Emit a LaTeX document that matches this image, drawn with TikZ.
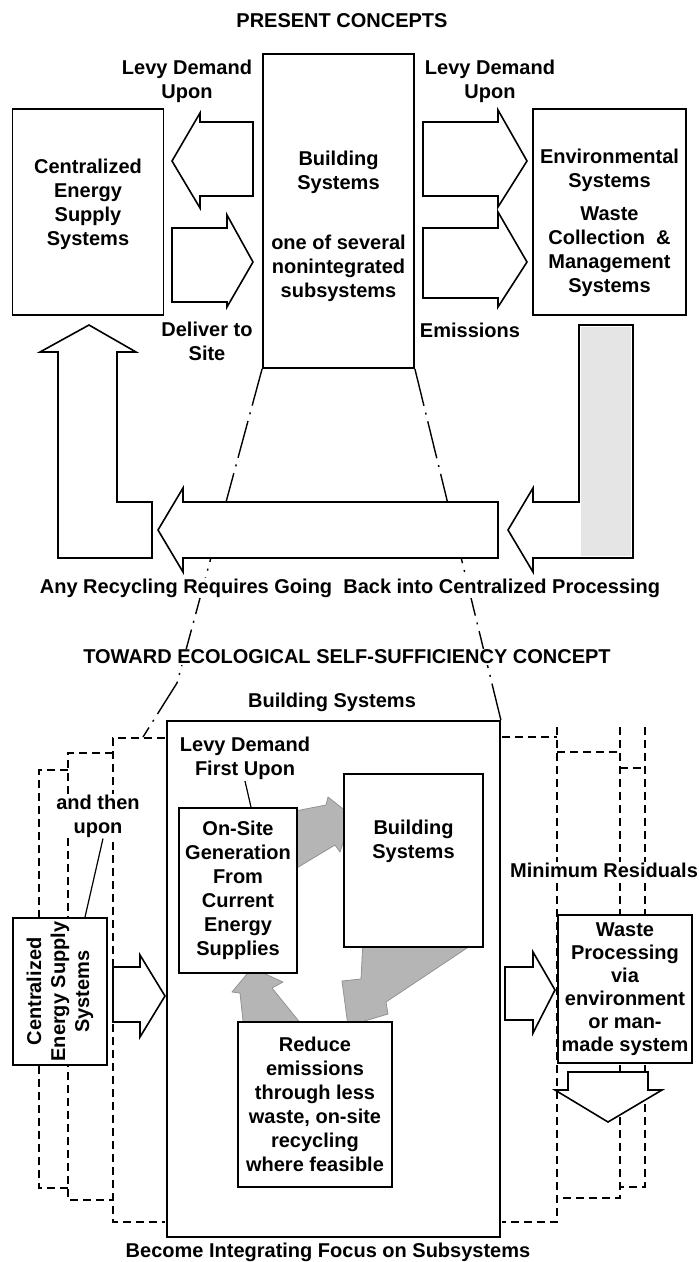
\documentclass[tikz,border=0pt]{standalone}
\usepackage{fontspec}
\setmainfont{Liberation Sans}
\usetikzlibrary{calc,backgrounds}
\newcommand{\lab}{\fontsize{20}{24}\selectfont\bfseries}

\begin{document}
\begin{tikzpicture}[x=1pt, y=-1pt, font=\lab,
  box/.style={draw, line width=1.8pt, fill=white, align=center, inner sep=2pt},
  hollow/.style={draw, line width=1.6pt, fill=white, line join=miter},
  shade/.style={draw=gray!85, fill=gray!58, line width=0.8pt, line join=round},
  guide/.style={line width=1.4pt, dash pattern=on 38pt off 7pt on 2pt off 7pt},
  ghost/.style={line width=1.4pt, dash pattern=on 8pt off 5pt},
  caption/.style={align=center, inner sep=1pt, fill=white}]
\useasboundingbox (0,0) rectangle (699,1262);
\begin{scope}[on background layer]
\fill[white] (0,0) rectangle (699,1262);
\end{scope}

\node[caption] (present) at (342,21) {PRESENT CONCEPTS};
\node[box, minimum width=151pt, minimum height=206pt] (cesup) at (88,212) {Centralized\\Energy\\Supply\\Systems\\[-4pt]\mbox{}};
\node[box, minimum width=151pt, minimum height=314pt] (bsys) at (338.5,211) {\mbox{}\\[21pt]Building\\Systems\\[36pt]one of several\\nonintegrated\\subsystems};
\node[box, minimum width=153pt, minimum height=206pt] (envsys) at (609.5,212) {\mbox{}\\[12pt]Environmental\\Systems\\[9pt]Waste\\Collection\ \ \&\\Management\\Systems};
\node[caption] (levyl) at (187,81.5) {Levy Demand\\Upon};
\node[caption] (levyr) at (490,81.5) {Levy Demand\\Upon};
\node[caption] (deliver) at (207,341.5) {Deliver to\\Site};
\node[caption] (emis) at (470,330) {Emissions};

\draw[hollow] (253,122) -- (200,122) -- (200,113) -- (172,161) -- (200,208) -- (200,196) -- (253,196) -- cycle;
\draw[hollow] (172,228) -- (227,228) -- (227,215) -- (253,262) -- (227,307) -- (227,302) -- (172,302) -- cycle;
\draw[hollow] (423,122) -- (498,122) -- (498,110) -- (527,161) -- (498,207) -- (498,196) -- (423,196) -- cycle;
\draw[hollow] (423,228) -- (498,228) -- (498,212) -- (527,262) -- (498,307) -- (498,298) -- (423,298) -- cycle;
\draw[hollow] (58,558) -- (152,558) -- (152,502) -- (117,502) -- (117,352) -- (136,352) -- (89,325) -- (40,352) -- (58,352) -- cycle;
\draw[hollow] (498,502) -- (183,502) -- (183,488) -- (158,530) -- (183,572) -- (183,558) -- (498,558) -- cycle;
\draw[hollow] (579,325) -- (633,325) -- (633,558) -- (533,558) -- (533,572) -- (508,530) -- (533,488) -- (533,502) -- (579,502) -- cycle;
\fill[gray!20] (581,327) rectangle (631,556);

\node[caption] (recyc) at (350,588) {Any Recycling Requires Going\ \ Back into Centralized Processing};
\node[caption] (toward) at (347,657) {TOWARD ECOLOGICAL SELF-SUFFICIENCY CONCEPT};
\node[caption] (bslab) at (332,702) {Building Systems};

\node[box, minimum width=333pt, minimum height=516pt] (bsbig) at (333.5,979) {};
\node[caption] (first) at (245,758.5) {Levy Demand\\First Upon};
\draw[shade] (290,812) -- (326,805) -- (328,797) -- (352,816) -- (340,852) -- (335,845) -- (290,872) -- cycle;
\draw[shade] (363,940) -- (479,940) -- (386,1002) -- (388,1014) -- (348,1026) -- (342,981) -- (361,979) -- cycle;
\draw[shade] (244,1030) -- (240,993) -- (232,992) -- (252,968) -- (283,982) -- (272,988) -- (306,1030) -- cycle;
\node[box, minimum width=118pt, minimum height=165pt] (onsite) at (238,890.5) {On-Site\\Generation\\From\\Current\\Energy\\Supplies};
\node[box, minimum width=139pt, minimum height=173pt] (bsin) at (413.5,860.5) {Building\\Systems\\[18pt]\mbox{}};
\node[box, minimum width=154pt, minimum height=165pt] (reduce) at (315,1104.5) {Reduce\\emissions\\through less\\waste, on-site\\recycling\\where feasible};
\draw[line width=1.2pt] (first.south) -- ($(onsite.north)+(13,0)$);

\node[box, minimum width=147pt, minimum height=94pt, rotate=90] (cesys) at (60,991.5) {Centralized\\Energy Supply\\Systems};
\node[caption] (then) at (98,816) {and then\\upon};
\draw[line width=1.2pt] ($(then.south)+(5,0)$) -- ($(cesys.east)+(25,0)$);
\draw[hollow] (113,967) -- (140,967) -- (140,955) -- (165,996) -- (140,1037) -- (140,1022) -- (113,1022) -- cycle;

\node[caption] (minres) at (604,870) {Minimum Residuals};
\node[box, minimum width=134pt, minimum height=148pt, font=\fontsize{20}{23}\selectfont\bfseries] (waste) at (625,989) {Waste\\Processing\\via\\environment\\or man-\\made system};
\draw[hollow] (505,967) -- (533,967) -- (533,952) -- (555,990) -- (533,1033) -- (533,1020) -- (505,1020) -- cycle;
\draw[hollow] (568,1072) -- (568,1090) -- (555,1090) -- (608,1122) -- (662,1090) -- (648,1090) -- (648,1072) -- cycle;
\node[caption] (become) at (328,1252) {Become Integrating Focus on Subsystems};

\begin{scope}[on background layer]
\draw[guide] (bsys.south west) -- (177,683) -- (143,737);
\draw[guide] (bsys.south east) -- (bsbig.north east);
\draw[ghost] (165,738) -- (113,738) -- (113,1222) -- (165,1222);
\draw[ghost] (113,753) -- (68,753) -- (68,1200) -- (113,1200);
\draw[ghost] (68,770) -- (39,770) -- (39,1188) -- (68,1188);
\draw[ghost] (502,737) -- (557,737);
\draw[ghost] (557,727) -- (557,1222) -- (502,1222);
\draw[ghost] (557,752) -- (620,752);
\draw[ghost] (620,727) -- (620,1198) -- (557,1198);
\draw[ghost] (620,768) -- (645,768);
\draw[ghost] (645,727) -- (645,1187) -- (620,1187);
\end{scope}
\end{tikzpicture}
\end{document}
